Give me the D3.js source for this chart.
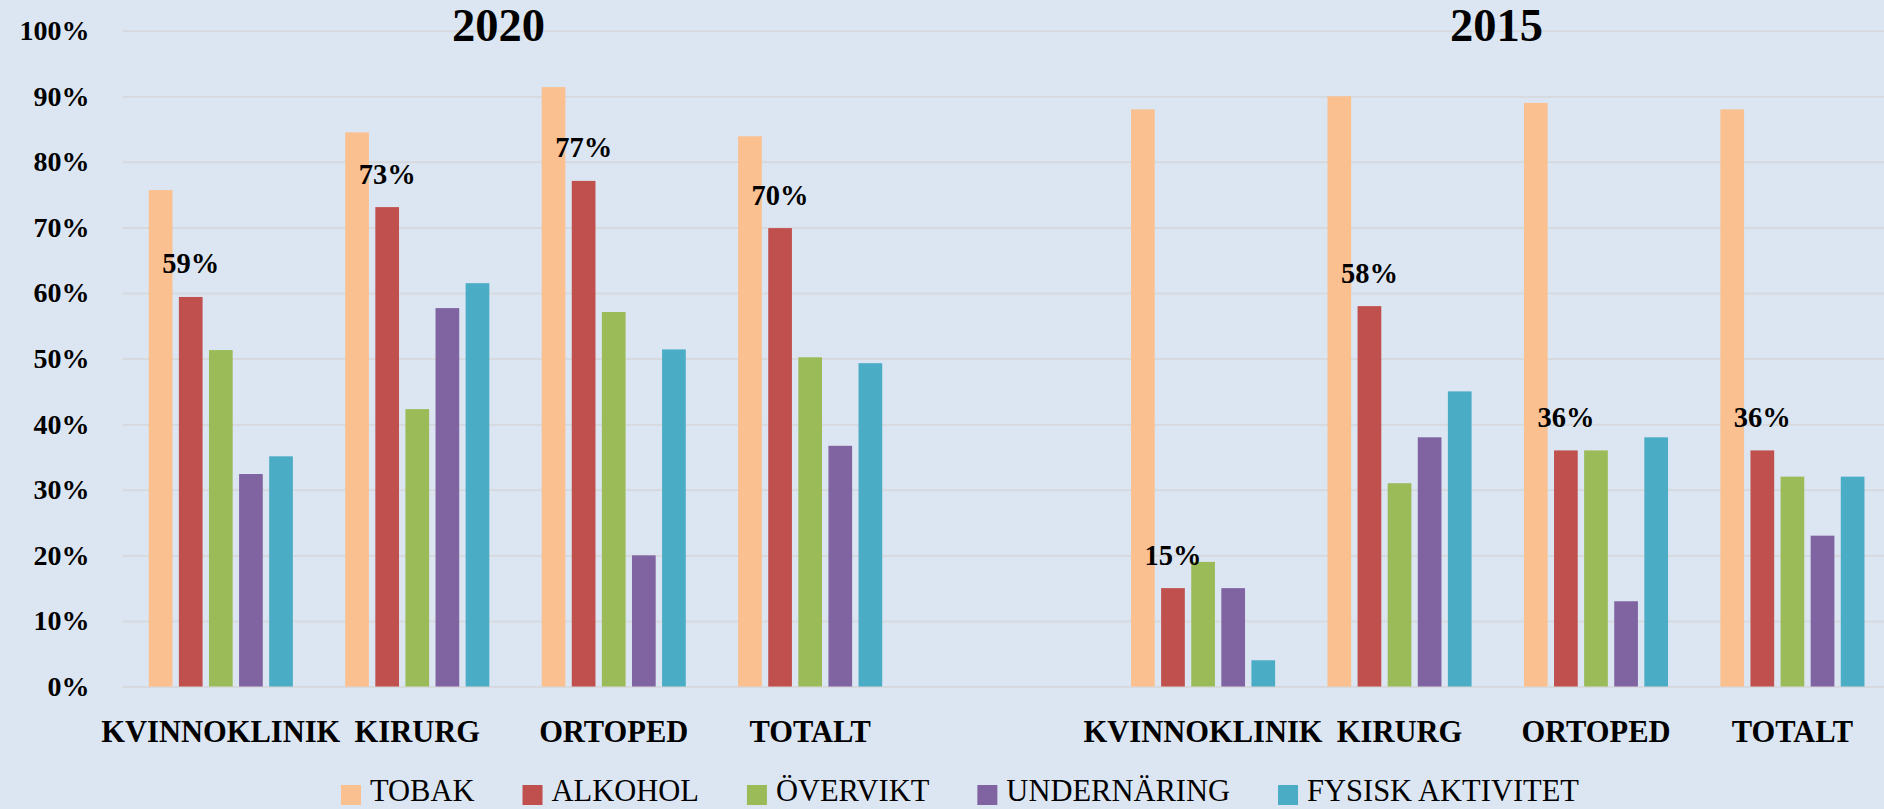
<!DOCTYPE html>
<html>
<head>
<meta charset="utf-8">
<script src="https://cdn.jsdelivr.net/npm/d3@7"></script>
<style>
  html, body { margin: 0; padding: 0; background: #dce6f2; overflow: hidden; }
  svg { display: block; font-family: "Liberation Serif", "Times New Roman", serif; }
</style>
</head>
<body>
<svg id="chart" width="1884" height="809"></svg>
<script>
// categories per slot (index 4 is the empty gap between the two years)
var slots = ["KVINNOKLINIK", "KIRURG", "ORTOPED", "TOTALT", "", "KVINNOKLINIK", "KIRURG", "ORTOPED", "TOTALT"];
var years = ["2020", "2015"];
var series = ["TOBAK", "ALKOHOL", "ÖVERVIKT", "UNDERNÄRING", "FYSISK AKTIVITET"];
var colors = ["#fac090", "#c0504d", "#9bbb59", "#8064a2", "#4bacc6"];
var yTicks = [0, 0.1, 0.2, 0.3, 0.4, 0.5, 0.6, 0.7, 0.8, 0.9, 1];

// values in percent, same order as slots
var tobak       = [75.7, 84.5, 91.4, 83.9, null, 88, 90, 89, 88];
var alkohol     = [59.4, 73.1, 77.1, 69.9, null, 15, 58, 36, 36];
var overvikt    = [51.3, 42.3, 57.1, 50.2, null, 19, 31, 36, 32];
var undernaring = [32.4, 57.7, 20.0, 36.7, null, 15, 38, 13, 23];
var fysisk      = [35.1, 61.5, 51.4, 49.3, null, 4, 45, 38, 32];

var seriesValues = [tobak, alkohol, overvikt, undernaring, fysisk];

var svg = d3.select("#chart");
var plotLeft = 122.6, plotTop = 30.7, plotBottom = 686.5, step = 196.45;

var x0 = d3.scaleBand()
    .domain(d3.range(slots.length))
    .range([plotLeft, plotLeft + step * slots.length])
    .padding(0);

var groupW = 144.1;
var x1 = d3.scaleBand()
    .domain(series)
    .range([(x0.bandwidth() - groupW) / 2, (x0.bandwidth() + groupW) / 2])
    .paddingInner(0.2126)
    .paddingOuter(0);

var y = d3.scaleLinear().domain([0, 1]).range([plotBottom, plotTop]);

// gridlines
svg.append("g")
    .attr("transform", "translate(" + plotLeft + ",0)")
    .call(d3.axisLeft(y).tickValues(yTicks).tickSize(-(1884 - plotLeft)).tickFormat(""))
    .call(function(g) {
        g.select(".domain").remove();
        g.selectAll("line").attr("stroke", "#d6d9de").attr("stroke-width", 2);
    });

// y labels
svg.append("g")
    .attr("transform", "translate(" + plotLeft + ",0)")
    .call(d3.axisLeft(y).tickValues(yTicks).tickSize(0).tickPadding(33).tickFormat(d3.format(".0%")))
    .call(function(g) {
        g.select(".domain").remove();
        g.selectAll("text")
            .attr("font-family", "Liberation Serif")
            .attr("font-size", 28)
            .attr("font-weight", "bold")
            .attr("fill", "#000");
    });

// x labels
svg.append("g")
    .attr("transform", "translate(0," + plotBottom + ")")
    .call(d3.axisBottom(x0).tickSize(0).tickPadding(34).tickFormat(function(i) { return slots[i]; }))
    .call(function(g) {
        g.select(".domain").remove();
        g.selectAll("text")
            .attr("font-family", "Liberation Serif")
            .attr("font-size", 30.5)
            .attr("font-weight", "bold")
            .attr("fill", "#000");
    });

// bars
var groups = svg.append("g").selectAll("g")
    .data(d3.range(slots.length).filter(function(i) { return slots[i] !== ""; }))
    .join("g")
    .attr("transform", function(i) { return "translate(" + x0(i) + ",0)"; });

groups.selectAll("rect")
    .data(function(i) {
        return series.map(function(s, k) { return { s: s, k: k, v: seriesValues[k][i] / 100 }; });
    })
    .join("rect")
    .attr("x", function(d) { return x1(d.s); })
    .attr("width", x1.bandwidth())
    .attr("y", function(d) { return y(d.v); })
    .attr("height", function(d) { return y(0) - y(d.v); })
    .attr("fill", function(d) { return colors[d.k]; });

// labels on the ALKOHOL bars
groups.append("text")
    .attr("x", x1("ALKOHOL") + x1.bandwidth() / 2)
    .attr("y", function(i) { return y(alkohol[i] / 100) - 23.5; })
    .attr("text-anchor", "middle")
    .attr("font-size", 28.5)
    .attr("font-weight", "bold")
    .text(function(i) { return d3.format(".0%")(alkohol[i] / 100); });

// year titles
var titleX = [498.5, 1496.5];
svg.selectAll(".year")
    .data(years)
    .join("text")
    .attr("class", "year")
    .attr("x", function(d, i) { return titleX[i]; })
    .attr("y", 40.7)
    .attr("text-anchor", "middle")
    .attr("font-size", 46.5)
    .attr("font-weight", "bold")
    .text(function(d) { return d; });

// legend (kept just inside the bottom edge)
var legend = svg.append("g").attr("transform", "translate(341,0)");
var lx = 0;
series.forEach(function(s, k) {
    var item = legend.append("g").attr("transform", "translate(" + lx + ",0)");
    item.append("rect")
        .attr("x", 0).attr("y", 785).attr("width", 20).attr("height", 20)
        .attr("fill", colors[k]);
    var t = item.append("text")
        .attr("x", 29).attr("y", 801)
        .attr("font-size", 30.5)
        .text(s);
    lx += 29 + t.node().getComputedTextLength() + 48;
});
</script>
</body>
</html>
